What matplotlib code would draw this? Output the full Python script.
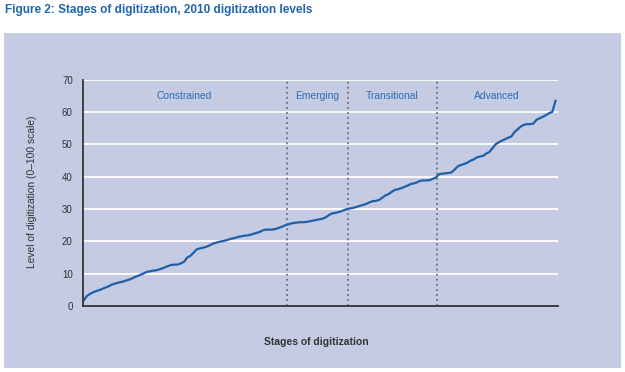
import numpy as np
import matplotlib
matplotlib.use("Agg")
import matplotlib.pyplot as plt
from matplotlib.patches import Rectangle

# digitization score of each country, sorted
levels = [1.6, 3.0, 3.7, 4.2, 4.6, 4.9, 5.3, 5.7, 6.1, 6.6,
          6.9, 7.2, 7.4, 7.7, 8.0, 8.3, 8.8, 9.2, 9.6, 10.0,
          10.5, 10.7, 10.9, 11.0, 11.3, 11.6, 12.0, 12.4, 12.7, 12.8,
          12.8, 13.2, 13.7, 15.0, 15.5, 16.5, 17.5, 17.8, 18.0, 18.3,
          18.7, 19.2, 19.5, 19.8, 20.0, 20.2, 20.5, 20.8, 21.0, 21.3,
          21.5, 21.7, 21.8, 22.0, 22.3, 22.6, 22.9, 23.4, 23.6, 23.6,
          23.6, 23.8, 24.1, 24.5, 24.9, 25.2, 25.5, 25.7, 25.8, 25.9,
          25.9, 26.0, 26.2, 26.4, 26.6, 26.8, 27.0, 27.4, 28.1, 28.6,
          28.8, 29.0, 29.3, 29.7, 30.0, 30.2, 30.4, 30.7, 31.0, 31.3,
          31.6, 32.1, 32.4, 32.5, 32.8, 33.5, 34.2, 34.6, 35.3, 35.9,
          36.1, 36.4, 36.8, 37.2, 37.7, 37.9, 38.2, 38.7, 38.8, 38.8,
          38.9, 39.3, 39.7, 40.7, 40.9, 41.0, 41.1, 41.3, 42.2, 43.2,
          43.6, 43.9, 44.3, 44.9, 45.3, 45.9, 46.2, 46.4, 47.1, 47.6,
          48.8, 50.0, 50.6, 51.1, 51.6, 52.0, 52.4, 53.8, 54.6, 55.5,
          56.0, 56.2, 56.2, 56.4, 57.6, 58.0, 58.5, 59.0, 59.6, 60.0,
          63.4]
stages = ["Constrained", "Emerging", "Transitional", "Advanced"]
stage_bounds = [64.7, 84.1, 112.3]   # positions of the dotted dividers
stage_label_x = [32.0, 74.3, 98.1, 131.5]
yticks = [0, 10, 20, 30, 40, 50, 60, 70]

panel = "#C4CBE3"
blue = "#1F5FA6"
label_blue = "#2C6DB5"
dark = "#333333"
narrow = ["Liberation Sans Narrow", "Liberation Sans", "DejaVu Sans"]

fig = plt.figure(figsize=(6.25, 3.72), dpi=100)
fig.patch.set_facecolor("white")
fig.patches.append(Rectangle((4/625, 4/372), 617/625, 335/372, transform=fig.transFigure,
                             facecolor=panel, edgecolor="none", zorder=-5))

fig.text(5/625, 1 - 10/372, "Figure 2: Stages of digitization, 2010 digitization levels",
         color="#1E64B0", fontsize=8.5, fontweight="bold",
         family=["Liberation Sans", "DejaVu Sans"], va="center", ha="left")

ax = fig.add_axes([82.5/625, 1 - 306/372, (558 - 82.5)/625, (306 - 79.5)/372])
ax.set_facecolor(panel)

x = np.arange(len(levels))
for yv in yticks[1:]:
    ax.axhline(yv, color="white", lw=1.3, zorder=1)
for b in stage_bounds:
    ax.plot([b, b], [0, 70], color="#6E6E6E", lw=1.3, ls=(0, (1, 1.8)), zorder=2)
ax.plot(x, levels, color=blue, lw=1.6, zorder=3)

for name, sx in zip(stages, stage_label_x):
    ax.text(sx, 65, name, color=label_blue, fontsize=7.4, ha="center", va="center", family=narrow)

ax.set_xlim(-0.3, 150.8)
ax.set_ylim(0, 70)
ax.set_yticks(yticks)
ax.set_xticks([])
ax.tick_params(axis="y", length=0, pad=7, labelsize=7, labelcolor=dark)
for lab in ax.get_yticklabels():
    lab.set_family(narrow)
for s in ["top", "right"]:
    ax.spines[s].set_visible(False)
for s in ["left", "bottom"]:
    ax.spines[s].set_color(dark)
    ax.spines[s].set_linewidth(1.3)
ax.spines["left"].set_zorder(4)

fig.text(32/625, 1 - 192/372, "Level of digitization (0\u2013100 scale)", rotation=90,
         ha="center", va="center", fontsize=7.4, color=dark, family=narrow)
fig.text(316/625, 1 - 342/372, "Stages of digitization", ha="center", va="center",
         fontsize=7.5, color=dark, family=narrow, fontweight="bold")

fig.savefig("out.png", dpi=100, facecolor="white")
